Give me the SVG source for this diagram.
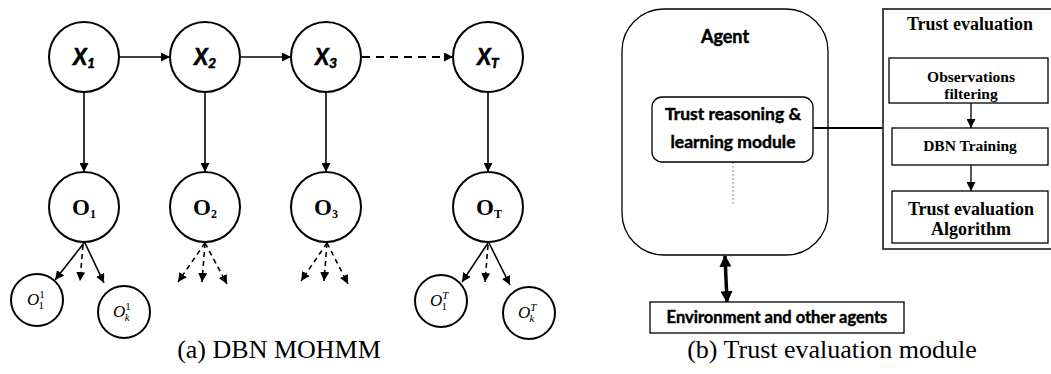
<svg xmlns="http://www.w3.org/2000/svg" width="1051" height="374" viewBox="0 0 1051 374">
  <defs>
    <marker id="tip" viewBox="0 0 10 10" refX="10" refY="5" markerWidth="9" markerHeight="9" markerUnits="userSpaceOnUse" orient="auto">
      <path d="M0,0 L10,5 L0,10 z" fill="#000"/>
    </marker>
    <marker id="tipBig" viewBox="0 0 10 10" refX="9" refY="5" markerWidth="12" markerHeight="12" markerUnits="userSpaceOnUse" orient="auto-start-reverse">
      <path d="M0,0 L10,5 L0,10 z" fill="#000"/>
    </marker>
    <style>
      .node { fill: #fff; stroke: #000; stroke-width: 2; }
      .small { fill: #fff; stroke: #000; stroke-width: 2; }
      .edge { fill: none; stroke: #000; stroke-width: 1.6; marker-end: url(#tip); }
      .dash { fill: none; stroke: #000; stroke-width: 1.6; stroke-dasharray: 5 4; marker-end: url(#tip); }
      .xl { font-family: Lato, "Liberation Sans", sans-serif; font-weight: bold; font-style: italic; fill: #000; stroke: #000; stroke-width: 0.6; }
      .ol { font-family: "Liberation Serif", "Times New Roman", serif; font-weight: bold; fill: #000; }
      .ml { font-family: "Liberation Serif", "Times New Roman", serif; fill: #000; }
      .cap { font-family: "Liberation Serif", "Times New Roman", serif; font-size: 26px; fill: #000; text-anchor: middle; }
      .sans { font-family: Lato, "Liberation Sans", sans-serif; font-weight: bold; fill: #000; text-anchor: middle; stroke: #000; stroke-width: 0.45; }
      .serifb { font-family: "Liberation Serif", "Times New Roman", serif; font-weight: bold; fill: #000; text-anchor: middle; }
      .box { fill: #fff; stroke: #000; stroke-width: 1.3; }
    </style>
  </defs>

  <rect width="1051" height="374" fill="#fff"/>

  <!-- (a) DBN MOHMM: connectors -->
  <g id="dbn-connectors">
    <line class="edge" x1="119" y1="57" x2="170" y2="57"/>
    <line class="edge" x1="241" y1="57" x2="291" y2="57"/>
    <line class="dash" x1="362" y1="57" x2="453" y2="57" style="stroke-width:2;stroke-dasharray:8 6"/>
    <line class="edge" x1="84" y1="92" x2="84" y2="172"/>
    <line class="edge" x1="205" y1="92" x2="205" y2="172"/>
    <line class="edge" x1="326" y1="92" x2="326" y2="172"/>
    <line class="edge" x1="488" y1="92" x2="488" y2="172"/>
    <!-- O1 children -->
    <line class="edge" x1="84" y1="243" x2="55" y2="280"/>
    <line class="dash" x1="83" y1="245" x2="80" y2="281"/>
    <line class="edge" x1="85" y1="243" x2="104" y2="283"/>
    <!-- O2 children -->
    <line class="dash" x1="205" y1="243" x2="178" y2="282"/>
    <line class="dash" x1="205" y1="243" x2="202" y2="282"/>
    <line class="dash" x1="205" y1="243" x2="227" y2="284"/>
    <!-- O3 children -->
    <line class="dash" x1="327" y1="243" x2="301" y2="281"/>
    <line class="dash" x1="327" y1="243" x2="324" y2="281"/>
    <line class="dash" x1="327" y1="243" x2="348" y2="284"/>
    <!-- OT children -->
    <line class="edge" x1="488" y1="243" x2="462" y2="282"/>
    <line class="dash" x1="488" y1="245" x2="485" y2="282"/>
    <line class="edge" x1="489" y1="243" x2="510" y2="285"/>
  </g>

  <!-- hidden-state nodes -->
  <g id="x1"><circle class="node" cx="84" cy="57" r="35"/><text class="xl" x="73" y="65" font-size="22">X<tspan font-size="14" dy="3">1</tspan></text></g>
  <g id="x2"><circle class="node" cx="205" cy="57" r="35"/><text class="xl" x="194" y="65" font-size="22">X<tspan font-size="14" dy="3">2</tspan></text></g>
  <g id="x3"><circle class="node" cx="326" cy="57" r="35"/><text class="xl" x="315" y="65" font-size="22">X<tspan font-size="14" dy="3">3</tspan></text></g>
  <g id="xT"><circle class="node" cx="488" cy="57" r="35"/><text class="xl" x="477" y="65" font-size="22">X<tspan font-size="14" dy="3">T</tspan></text></g>

  <!-- observation nodes -->
  <g id="o1"><circle class="node" cx="84" cy="207" r="35"/><text class="ol" x="72" y="215" font-size="23">O<tspan font-size="12" dy="3">1</tspan></text></g>
  <g id="o2"><circle class="node" cx="205" cy="207" r="35"/><text class="ol" x="193" y="215" font-size="23">O<tspan font-size="12" dy="3">2</tspan></text></g>
  <g id="o3"><circle class="node" cx="326" cy="207" r="35"/><text class="ol" x="314" y="215" font-size="23">O<tspan font-size="12" dy="3">3</tspan></text></g>
  <g id="oT"><circle class="node" cx="488" cy="207" r="35"/><text class="ol" x="476" y="215" font-size="23">O<tspan font-size="12" dy="3">T</tspan></text></g>

  <!-- observation components -->
  <g id="o1-1"><circle class="small" cx="37" cy="300" r="26"/><text class="ml" x="27" y="305" font-size="17"><tspan font-style="italic">O</tspan><tspan font-size="11" dy="-7">1</tspan><tspan font-size="11" dx="-6" dy="11">1</tspan></text></g>
  <g id="o1-k"><circle class="small" cx="124" cy="312" r="26"/><text class="ml" x="113" y="317" font-size="17"><tspan font-style="italic">O</tspan><tspan font-size="11" dy="-7">1</tspan><tspan font-size="11" font-style="italic" dx="-6" dy="11">k</tspan></text></g>
  <g id="oT-1"><circle class="small" cx="441" cy="301" r="26"/><text class="ml" x="430" y="306" font-size="17"><tspan font-style="italic">O</tspan><tspan font-size="11" font-style="italic" dy="-7">T</tspan><tspan font-size="11" dx="-7" dy="11">1</tspan></text></g>
  <g id="oT-k"><circle class="small" cx="529" cy="313" r="26"/><text class="ml" x="518" y="318" font-size="17"><tspan font-style="italic">O</tspan><tspan font-size="11" font-style="italic" dy="-7">T</tspan><tspan font-size="11" font-style="italic" dx="-7" dy="11">k</tspan></text></g>

  <text class="cap" x="279" y="358">(a) DBN MOHMM</text>

  <!-- (b) Trust evaluation module: connectors -->
  <g id="module-connectors">
    <line x1="813" y1="128" x2="883" y2="128" stroke="#000" stroke-width="2"/>
    <line x1="733" y1="162" x2="733" y2="205" stroke="#888" stroke-width="1" stroke-dasharray="2 2"/>
    <line x1="971" y1="103" x2="971" y2="128" stroke="#000" stroke-width="1.3" marker-end="url(#tip)"/>
    <line x1="971" y1="165" x2="971" y2="191" stroke="#000" stroke-width="1.3" marker-end="url(#tip)"/>
    <line x1="725" y1="256" x2="727" y2="302" stroke="#000" stroke-width="3.5" marker-start="url(#tipBig)" marker-end="url(#tipBig)"/>
  </g>

  <g id="agent">
    <rect x="622" y="9" width="206" height="246" rx="42" fill="none" stroke="#000" stroke-width="1.3"/>
    <text class="sans" x="725" y="43" font-size="18">Agent</text>
  </g>

  <g id="reasoning">
    <rect x="652" y="97" width="161" height="65" rx="10" class="box"/>
    <text class="sans" x="733" y="120" font-size="17.5">Trust reasoning &amp;</text>
    <text class="sans" x="733" y="148" font-size="17.5">learning module</text>
  </g>

  <g id="trust-evaluation">
    <rect x="883" y="9" width="180" height="240" fill="none" stroke="#333" stroke-width="1.8"/>
    <text class="serifb" x="970" y="30" font-size="18">Trust evaluation</text>
  </g>

  <g id="filtering">
    <rect x="889" y="58" width="159" height="45" class="box"/>
    <text class="serifb" x="971" y="82" font-size="15.5">Observations</text>
    <text class="serifb" x="971" y="99" font-size="15.5">filtering</text>
  </g>

  <g id="training">
    <rect x="892" y="128" width="156" height="37" class="box"/>
    <text class="serifb" x="970" y="151" font-size="15.5">DBN Training</text>
  </g>

  <g id="algorithm">
    <rect x="892" y="191" width="156" height="52" class="box" stroke-width="1.8"/>
    <text class="serifb" x="971" y="215" font-size="18">Trust evaluation</text>
    <text class="serifb" x="971" y="235" font-size="18">Algorithm</text>
  </g>

  <g id="environment">
    <rect x="650" y="302" width="254" height="31" class="box"/>
    <text class="sans" x="777" y="323" font-size="16.5">Environment and other agents</text>
  </g>

  <text class="cap" x="832" y="358">(b) Trust evaluation module</text>
</svg>
